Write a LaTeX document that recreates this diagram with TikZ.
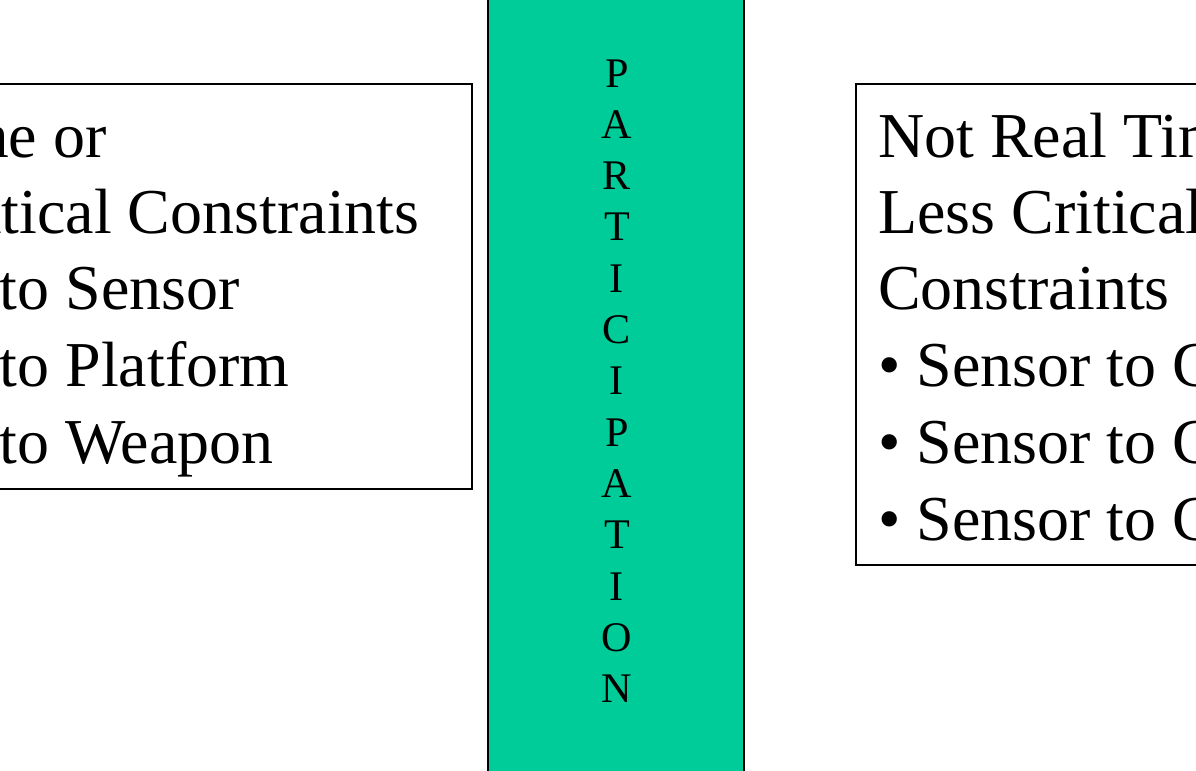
\documentclass[tikz,border=0pt]{standalone}
\usepackage{fontspec}
\setmainfont{Liberation Serif}
\definecolor{bargreen}{RGB}{0,204,153}
\tikzset{
  box/.style={draw, line width=1pt, inner sep=0pt},
  big/.style={anchor=base west, inner sep=0pt, font=\fontsize{45.5}{54}\selectfont},
  letter/.style={anchor=base, inner sep=0pt, font=\fontsize{30}{36}\selectfont}
}
\begin{document}
\begin{tikzpicture}[x=0.025cm, y=-0.025cm]
  \useasboundingbox (0,0) rectangle (1196,770);
  \clip (0,0) rectangle (1196,770);

  % left box
  \draw[box] (-251,84) rectangle (472,489);
  \node[big] (l1) at (-229,157) {Real Time or};
  \node[big] (l2) at (-229,233) {Time Critical Constraints};
  \node[big] (l3) at (-229,309) {\textbullet\ Sensor to Sensor};
  \node[big] (l4) at (-229,386) {\textbullet\ Sensor to Platform};
  \node[big] (l5) at (-229,463) {\textbullet\ Sensor to Weapon};

  % partition bar
  \filldraw[fill=bargreen, line width=1pt] (488,-10) rectangle (744,780);
  \foreach \ch [count=\i from 0] in {P,A,R,T,I,C,I,P,A,T,I,O,N}
    \node[letter] (p\i) at (617,87+51.3*\i) {\ch};

  % right box
  \draw[box] (856,84) rectangle (1580,565);
  \node[big] (r1) at (878,157) {Not Real Time};
  \node[big] (r2) at (878,233) {Less Critical};
  \node[big] (r3) at (878,309) {Constraints};
  \node[big] (r4) at (878,386) {\textbullet\ Sensor to C};
  \node[big] (r5) at (878,463) {\textbullet\ Sensor to C};
  \node[big] (r6) at (878,540) {\textbullet\ Sensor to C};
\end{tikzpicture}
\end{document}
